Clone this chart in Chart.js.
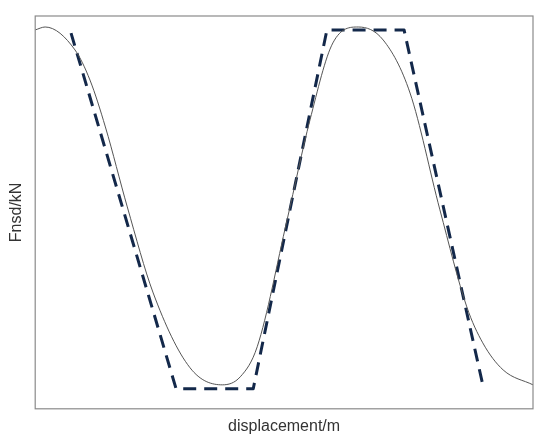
<!DOCTYPE html>
<html>
<head>
<meta charset="utf-8">
<script src="https://cdn.jsdelivr.net/npm/chart.js@4.4.1/dist/chart.umd.min.js"></script>
<style>
  html, body { margin: 0; padding: 0; background: #fff; }
  #wrap { width: 550px; height: 445px; }
</style>
</head>
<body>
<div id="wrap"><canvas id="forceChart"></canvas></div>
<script>
// curva medida (línea fina)
const measuredX = [0, 2, 8, 11, 14.1, 18.5, 23.7, 31.1, 37.6, 41.2, 44.6, 50.6, 55.2, 59.8, 64.9, 69.9, 75.3, 81.3, 86.7, 89.9, 94, 100];
const measuredY = [92.9, 94.4, 82.7, 67.4, 43.5, 2.8, -41.0, -79.1, -87.8, -83.7, -68.4, -3.8, 47.1, 86.3, 94.4, 87.8, 60.8, 1.3, -48.1, -66.4, -80.2, -87.8];

// modelo lineal por tramos (línea discontinua)
const modelX = [7.2, 28.3, 43.8, 58.6, 74.1, 90.0];
const modelY = [91.3, -89.8, -89.8, 92.9, 92.9, -88.8];

const xTitle = "displacement/m";
const yTitle = "Fnsd/kN";

const toPoints = (xs, ys) => xs.map((x, i) => ({ x, y: ys[i] }));

// marco alrededor del área del gráfico
const frame = {
  id: "frame",
  afterDraw(chart) {
    const { ctx, chartArea: a } = chart;
    ctx.save();
    ctx.strokeStyle = "#8a8a8a";
    ctx.lineWidth = 1.2;
    ctx.strokeRect(a.left, a.top, a.right - a.left, a.bottom - a.top);
    ctx.restore();
  }
};

const titleFont = { family: "'Liberation Sans', Arial, sans-serif", size: 16 };

new Chart(document.getElementById("forceChart").getContext("2d"), {
  type: "line",
  data: {
    datasets: [
      {
        data: toPoints(measuredX, measuredY),
        borderColor: "#555555",
        borderWidth: 1,
        pointRadius: 0,
        cubicInterpolationMode: "monotone",
        fill: false
      },
      {
        data: toPoints(modelX, modelY),
        borderColor: "#13284a",
        borderWidth: 3,
        borderDash: [13, 8],
        borderJoinStyle: "round",
        pointRadius: 0,
        tension: 0,
        fill: false
      }
    ]
  },
  options: {
    responsive: true,
    maintainAspectRatio: false,
    animation: false,
    layout: { padding: { top: 16, right: 17, bottom: 5, left: 3 } },
    plugins: {
      legend: { display: false },
      tooltip: { enabled: false }
    },
    scales: {
      x: {
        type: "linear",
        min: 0,
        max: 100,
        grid: { display: false, drawTicks: false },
        border: { display: false },
        ticks: { display: false },
        title: { display: true, text: xTitle, color: "#333", font: titleFont, padding: { top: 8, bottom: 4 } }
      },
      y: {
        min: -100,
        max: 100,
        grid: { display: false, drawTicks: false },
        border: { display: false },
        ticks: { display: false },
        title: { display: true, text: yTitle, color: "#333", font: titleFont, padding: { top: 4, bottom: 9 } }
      }
    }
  },
  plugins: [frame]
});
</script>
</body>
</html>
